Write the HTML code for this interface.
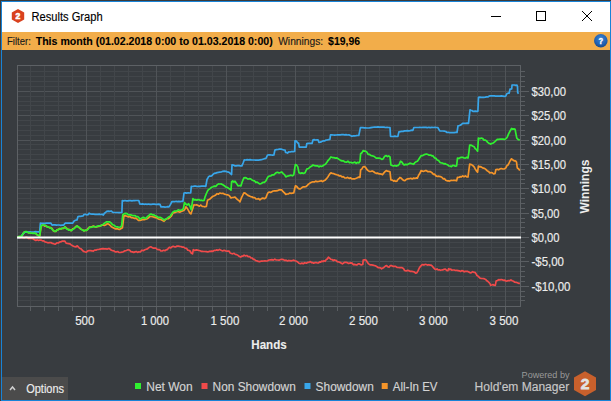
<!DOCTYPE html>
<html><head><meta charset="utf-8"><style>
html,body{margin:0;padding:0;width:611px;height:401px;overflow:hidden;background:#3b3b3b}
svg{display:block}
</style></head><body>
<svg width="611" height="401" viewBox="0 0 611 401" font-family="Liberation Sans, sans-serif">
<rect x="0" y="0" width="611" height="401" fill="#3b3b3b"/>
<rect x="1" y="1" width="610" height="400" fill="#1883d7"/>
<rect x="2" y="2" width="608" height="30" fill="#ffffff"/>
<rect x="2" y="32" width="608" height="18" fill="#f2ad4a"/>
<rect x="2" y="50" width="608" height="350" fill="#383c40"/>
<rect x="18" y="71" width="502" height="1" fill="#42464a"/><rect x="521" y="71" width="4" height="1" fill="#5a5e62"/><rect x="18" y="76" width="502" height="1" fill="#42464a"/><rect x="521" y="76" width="4" height="1" fill="#5a5e62"/><rect x="18" y="81" width="502" height="1" fill="#42464a"/><rect x="521" y="81" width="4" height="1" fill="#5a5e62"/><rect x="18" y="86" width="502" height="1" fill="#42464a"/><rect x="521" y="86" width="4" height="1" fill="#5a5e62"/><rect x="18" y="91" width="502" height="1" fill="#505458"/><rect x="521" y="91" width="8" height="1" fill="#5a5e62"/><rect x="18" y="96" width="502" height="1" fill="#42464a"/><rect x="521" y="96" width="4" height="1" fill="#5a5e62"/><rect x="18" y="101" width="502" height="1" fill="#42464a"/><rect x="521" y="101" width="4" height="1" fill="#5a5e62"/><rect x="18" y="105" width="502" height="1" fill="#42464a"/><rect x="521" y="105" width="4" height="1" fill="#5a5e62"/><rect x="18" y="110" width="502" height="1" fill="#42464a"/><rect x="521" y="110" width="4" height="1" fill="#5a5e62"/><rect x="18" y="115" width="502" height="1" fill="#505458"/><rect x="521" y="115" width="8" height="1" fill="#5a5e62"/><rect x="18" y="120" width="502" height="1" fill="#42464a"/><rect x="521" y="120" width="4" height="1" fill="#5a5e62"/><rect x="18" y="125" width="502" height="1" fill="#42464a"/><rect x="521" y="125" width="4" height="1" fill="#5a5e62"/><rect x="18" y="130" width="502" height="1" fill="#42464a"/><rect x="521" y="130" width="4" height="1" fill="#5a5e62"/><rect x="18" y="135" width="502" height="1" fill="#42464a"/><rect x="521" y="135" width="4" height="1" fill="#5a5e62"/><rect x="18" y="140" width="502" height="1" fill="#505458"/><rect x="521" y="140" width="8" height="1" fill="#5a5e62"/><rect x="18" y="144" width="502" height="1" fill="#42464a"/><rect x="521" y="144" width="4" height="1" fill="#5a5e62"/><rect x="18" y="149" width="502" height="1" fill="#42464a"/><rect x="521" y="149" width="4" height="1" fill="#5a5e62"/><rect x="18" y="154" width="502" height="1" fill="#42464a"/><rect x="521" y="154" width="4" height="1" fill="#5a5e62"/><rect x="18" y="159" width="502" height="1" fill="#42464a"/><rect x="521" y="159" width="4" height="1" fill="#5a5e62"/><rect x="18" y="164" width="502" height="1" fill="#505458"/><rect x="521" y="164" width="8" height="1" fill="#5a5e62"/><rect x="18" y="169" width="502" height="1" fill="#42464a"/><rect x="521" y="169" width="4" height="1" fill="#5a5e62"/><rect x="18" y="174" width="502" height="1" fill="#42464a"/><rect x="521" y="174" width="4" height="1" fill="#5a5e62"/><rect x="18" y="179" width="502" height="1" fill="#42464a"/><rect x="521" y="179" width="4" height="1" fill="#5a5e62"/><rect x="18" y="183" width="502" height="1" fill="#42464a"/><rect x="521" y="183" width="4" height="1" fill="#5a5e62"/><rect x="18" y="188" width="502" height="1" fill="#505458"/><rect x="521" y="188" width="8" height="1" fill="#5a5e62"/><rect x="18" y="193" width="502" height="1" fill="#42464a"/><rect x="521" y="193" width="4" height="1" fill="#5a5e62"/><rect x="18" y="198" width="502" height="1" fill="#42464a"/><rect x="521" y="198" width="4" height="1" fill="#5a5e62"/><rect x="18" y="203" width="502" height="1" fill="#42464a"/><rect x="521" y="203" width="4" height="1" fill="#5a5e62"/><rect x="18" y="208" width="502" height="1" fill="#42464a"/><rect x="521" y="208" width="4" height="1" fill="#5a5e62"/><rect x="18" y="213" width="502" height="1" fill="#505458"/><rect x="521" y="213" width="8" height="1" fill="#5a5e62"/><rect x="18" y="218" width="502" height="1" fill="#42464a"/><rect x="521" y="218" width="4" height="1" fill="#5a5e62"/><rect x="18" y="222" width="502" height="1" fill="#42464a"/><rect x="521" y="222" width="4" height="1" fill="#5a5e62"/><rect x="18" y="227" width="502" height="1" fill="#42464a"/><rect x="521" y="227" width="4" height="1" fill="#5a5e62"/><rect x="18" y="232" width="502" height="1" fill="#42464a"/><rect x="521" y="232" width="4" height="1" fill="#5a5e62"/><rect x="18" y="237" width="502" height="1" fill="#505458"/><rect x="521" y="237" width="8" height="1" fill="#5a5e62"/><rect x="18" y="242" width="502" height="1" fill="#42464a"/><rect x="521" y="242" width="4" height="1" fill="#5a5e62"/><rect x="18" y="247" width="502" height="1" fill="#42464a"/><rect x="521" y="247" width="4" height="1" fill="#5a5e62"/><rect x="18" y="252" width="502" height="1" fill="#42464a"/><rect x="521" y="252" width="4" height="1" fill="#5a5e62"/><rect x="18" y="257" width="502" height="1" fill="#42464a"/><rect x="521" y="257" width="4" height="1" fill="#5a5e62"/><rect x="18" y="261" width="502" height="1" fill="#505458"/><rect x="521" y="261" width="8" height="1" fill="#5a5e62"/><rect x="18" y="266" width="502" height="1" fill="#42464a"/><rect x="521" y="266" width="4" height="1" fill="#5a5e62"/><rect x="18" y="271" width="502" height="1" fill="#42464a"/><rect x="521" y="271" width="4" height="1" fill="#5a5e62"/><rect x="18" y="276" width="502" height="1" fill="#42464a"/><rect x="521" y="276" width="4" height="1" fill="#5a5e62"/><rect x="18" y="281" width="502" height="1" fill="#42464a"/><rect x="521" y="281" width="4" height="1" fill="#5a5e62"/><rect x="18" y="286" width="502" height="1" fill="#505458"/><rect x="521" y="286" width="8" height="1" fill="#5a5e62"/><rect x="18" y="291" width="502" height="1" fill="#42464a"/><rect x="521" y="291" width="4" height="1" fill="#5a5e62"/><rect x="18" y="296" width="502" height="1" fill="#42464a"/><rect x="521" y="296" width="4" height="1" fill="#5a5e62"/><rect x="18" y="300" width="502" height="1" fill="#42464a"/><rect x="521" y="300" width="4" height="1" fill="#5a5e62"/><rect x="30" y="66" width="1" height="240" fill="#42464a"/><rect x="30" y="307" width="1" height="4" fill="#5a5e62"/><rect x="44" y="66" width="1" height="240" fill="#42464a"/><rect x="44" y="307" width="1" height="4" fill="#5a5e62"/><rect x="58" y="66" width="1" height="240" fill="#42464a"/><rect x="58" y="307" width="1" height="4" fill="#5a5e62"/><rect x="72" y="66" width="1" height="240" fill="#42464a"/><rect x="72" y="307" width="1" height="4" fill="#5a5e62"/><rect x="86" y="66" width="1" height="240" fill="#505458"/><rect x="86" y="307" width="1" height="8" fill="#5a5e62"/><rect x="100" y="66" width="1" height="240" fill="#42464a"/><rect x="100" y="307" width="1" height="4" fill="#5a5e62"/><rect x="114" y="66" width="1" height="240" fill="#42464a"/><rect x="114" y="307" width="1" height="4" fill="#5a5e62"/><rect x="128" y="66" width="1" height="240" fill="#42464a"/><rect x="128" y="307" width="1" height="4" fill="#5a5e62"/><rect x="142" y="66" width="1" height="240" fill="#42464a"/><rect x="142" y="307" width="1" height="4" fill="#5a5e62"/><rect x="156" y="66" width="1" height="240" fill="#505458"/><rect x="156" y="307" width="1" height="8" fill="#5a5e62"/><rect x="170" y="66" width="1" height="240" fill="#42464a"/><rect x="170" y="307" width="1" height="4" fill="#5a5e62"/><rect x="184" y="66" width="1" height="240" fill="#42464a"/><rect x="184" y="307" width="1" height="4" fill="#5a5e62"/><rect x="198" y="66" width="1" height="240" fill="#42464a"/><rect x="198" y="307" width="1" height="4" fill="#5a5e62"/><rect x="212" y="66" width="1" height="240" fill="#42464a"/><rect x="212" y="307" width="1" height="4" fill="#5a5e62"/><rect x="226" y="66" width="1" height="240" fill="#505458"/><rect x="226" y="307" width="1" height="8" fill="#5a5e62"/><rect x="240" y="66" width="1" height="240" fill="#42464a"/><rect x="240" y="307" width="1" height="4" fill="#5a5e62"/><rect x="253" y="66" width="1" height="240" fill="#42464a"/><rect x="253" y="307" width="1" height="4" fill="#5a5e62"/><rect x="267" y="66" width="1" height="240" fill="#42464a"/><rect x="267" y="307" width="1" height="4" fill="#5a5e62"/><rect x="281" y="66" width="1" height="240" fill="#42464a"/><rect x="281" y="307" width="1" height="4" fill="#5a5e62"/><rect x="295" y="66" width="1" height="240" fill="#505458"/><rect x="295" y="307" width="1" height="8" fill="#5a5e62"/><rect x="309" y="66" width="1" height="240" fill="#42464a"/><rect x="309" y="307" width="1" height="4" fill="#5a5e62"/><rect x="323" y="66" width="1" height="240" fill="#42464a"/><rect x="323" y="307" width="1" height="4" fill="#5a5e62"/><rect x="337" y="66" width="1" height="240" fill="#42464a"/><rect x="337" y="307" width="1" height="4" fill="#5a5e62"/><rect x="351" y="66" width="1" height="240" fill="#42464a"/><rect x="351" y="307" width="1" height="4" fill="#5a5e62"/><rect x="365" y="66" width="1" height="240" fill="#505458"/><rect x="365" y="307" width="1" height="8" fill="#5a5e62"/><rect x="379" y="66" width="1" height="240" fill="#42464a"/><rect x="379" y="307" width="1" height="4" fill="#5a5e62"/><rect x="393" y="66" width="1" height="240" fill="#42464a"/><rect x="393" y="307" width="1" height="4" fill="#5a5e62"/><rect x="407" y="66" width="1" height="240" fill="#42464a"/><rect x="407" y="307" width="1" height="4" fill="#5a5e62"/><rect x="421" y="66" width="1" height="240" fill="#42464a"/><rect x="421" y="307" width="1" height="4" fill="#5a5e62"/><rect x="435" y="66" width="1" height="240" fill="#505458"/><rect x="435" y="307" width="1" height="8" fill="#5a5e62"/><rect x="449" y="66" width="1" height="240" fill="#42464a"/><rect x="449" y="307" width="1" height="4" fill="#5a5e62"/><rect x="463" y="66" width="1" height="240" fill="#42464a"/><rect x="463" y="307" width="1" height="4" fill="#5a5e62"/><rect x="477" y="66" width="1" height="240" fill="#42464a"/><rect x="477" y="307" width="1" height="4" fill="#5a5e62"/><rect x="491" y="66" width="1" height="240" fill="#42464a"/><rect x="491" y="307" width="1" height="4" fill="#5a5e62"/><rect x="505" y="66" width="1" height="240" fill="#505458"/><rect x="505" y="307" width="1" height="8" fill="#5a5e62"/>
<rect x="17" y="65" width="504" height="1" fill="#5d6165"/>
<rect x="17" y="306" width="504" height="1" fill="#5d6165"/>
<rect x="17" y="65" width="1" height="242" fill="#5d6165"/>
<rect x="520" y="65" width="1" height="242" fill="#5d6165"/>
<clipPath id="pc"><rect x="17" y="65" width="504" height="242"/></clipPath>
<g clip-path="url(#pc)" fill="none" stroke-width="1.7" stroke-linejoin="round">
<polyline stroke="#f5952a" points="17.0,237.5 18.3,236.7 19.7,237.5 21.0,236.7 22.2,235.5 23.5,233.2 24.7,231.9 26.0,232.1 27.4,232.2 28.7,232.6 30.0,232.6 31.5,233.2 33.0,232.4 34.5,233.2 35.6,233.1 36.7,234.4 38.2,235.6 39.7,235.9 41.2,225.7 42.3,225.3 43.4,225.1 44.7,226.1 45.9,225.6 47.2,226.9 48.4,227.1 49.7,227.7 50.9,227.7 52.2,228.6 53.4,230.8 54.7,231.4 55.9,231.4 57.2,229.5 58.4,229.6 59.6,228.5 60.9,228.9 62.1,228.4 63.6,228.3 65.1,226.9 66.2,227.9 67.4,229.2 68.6,229.3 69.9,230.1 71.1,230.7 72.5,228.9 74.0,228.5 75.5,226.8 77.0,225.9 78.3,226.9 79.7,228.2 81.0,229.3 82.5,229.7 84.0,230.9 85.2,230.3 86.5,230.4 88.0,228.4 89.5,227.1 90.8,226.9 92.1,226.6 93.4,226.1 94.7,226.7 96.0,227.1 97.2,226.6 98.5,226.4 100.0,226.2 101.5,225.2 103.0,225.2 104.5,225.4 105.9,224.7 107.4,223.7 108.7,224.1 110.1,225.3 111.4,226.8 112.7,227.4 114.2,228.2 115.7,229.0 117.2,228.7 118.7,229.3 119.9,229.3 121.2,228.5 122.4,227.8 123.9,215.8 125.4,215.7 126.9,216.3 128.4,216.9 129.9,216.5 131.3,217.6 132.7,217.7 134.1,218.3 135.6,218.1 137.0,219.0 138.4,220.3 139.8,220.5 141.3,220.1 142.8,219.4 144.3,219.7 145.8,219.3 147.2,218.7 148.6,217.7 150.0,216.5 151.0,216.5 152.5,216.7 154.0,217.1 155.5,217.6 157.0,217.9 158.4,219.0 159.8,219.3 161.2,219.8 162.6,220.6 164.0,221.3 165.5,219.6 167.0,218.7 168.5,218.6 170.0,217.3 171.5,215.8 173.0,212.9 174.4,212.7 175.7,212.2 177.1,211.5 178.4,211.7 179.8,212.1 181.2,211.5 182.5,210.9 183.9,210.5 184.9,209.2 185.9,206.9 187.2,208.3 188.4,210.4 189.7,212.8 190.9,213.9 192.4,209.5 193.9,204.9 195.3,205.0 196.7,204.9 198.1,205.5 199.5,206.2 200.8,205.0 202.2,206.3 203.6,206.5 205.0,206.8 206.4,206.4 207.5,200.3 208.9,199.6 210.3,198.7 211.7,197.3 213.1,196.3 214.4,195.7 215.8,194.9 217.1,193.7 218.5,194.2 219.8,193.0 221.3,193.5 222.8,193.3 224.3,194.1 225.8,194.5 227.3,194.8 228.8,195.2 229.9,196.4 231.0,198.0 232.3,197.5 233.7,197.4 235.0,197.0 236.2,198.4 237.5,199.6 238.8,200.5 240.0,201.8 241.3,198.2 242.6,195.5 243.9,192.9 245.2,193.1 246.6,194.3 247.9,195.4 249.2,195.9 250.6,196.6 251.9,196.8 253.2,197.7 254.6,197.5 255.9,198.8 257.2,199.0 258.6,198.7 259.9,199.8 261.4,198.6 262.9,198.1 264.4,198.7 265.9,197.8 266.9,195.0 267.9,192.9 269.2,192.0 270.6,192.4 271.9,191.7 273.2,191.0 274.6,190.8 275.9,190.9 277.4,190.7 278.9,189.9 280.3,189.8 281.8,189.9 283.1,191.7 284.5,192.9 285.8,194.5 287.1,194.0 288.5,193.9 289.8,193.0 291.1,193.3 292.5,193.1 293.8,192.9 294.6,189.0 295.4,185.9 296.6,186.4 297.8,187.9 299.0,188.8 300.3,188.9 301.7,187.8 303.0,186.9 304.3,186.9 305.7,186.7 307.0,185.8 308.5,184.1 310.0,183.1 311.5,182.3 313.0,181.8 314.4,182.0 315.7,181.1 317.1,181.7 318.4,181.5 319.8,181.2 321.2,180.7 322.5,181.6 323.9,180.8 325.4,179.9 326.9,178.2 328.2,176.4 329.6,174.2 330.9,172.8 332.4,173.5 333.9,173.7 335.4,174.4 336.9,174.8 338.1,175.0 339.4,176.0 340.6,175.7 341.9,176.8 343.3,176.7 344.8,177.9 346.2,178.0 347.7,177.4 349.1,178.4 350.6,177.9 352.0,179.0 353.5,178.9 354.9,178.8 356.2,178.3 357.4,177.8 358.7,177.1 360.0,177.4 360.6,170.0 361.9,168.9 363.1,166.8 364.4,166.5 365.6,167.5 366.9,169.5 368.1,170.6 369.5,171.5 370.9,171.3 372.3,171.0 373.7,171.8 375.0,172.7 376.2,173.3 377.5,173.1 378.8,173.8 380.0,173.9 381.2,174.1 382.5,174.7 383.7,173.1 385.0,171.6 386.2,170.6 387.5,171.2 388.7,171.3 390.0,171.8 390.9,179.9 392.3,180.1 393.7,181.2 394.7,180.6 395.8,181.4 396.8,181.2 397.8,179.6 398.9,178.7 399.9,177.4 401.1,178.0 402.4,179.5 403.6,180.4 404.9,180.6 406.4,179.3 407.8,178.9 409.3,178.7 410.8,178.3 412.2,179.0 413.7,178.1 414.9,178.5 416.2,177.9 417.4,178.1 418.6,175.2 419.9,173.3 421.1,170.6 422.5,171.1 423.8,171.3 425.2,170.7 426.5,170.7 427.9,171.7 429.2,171.7 430.5,171.7 431.9,172.6 433.3,174.3 434.6,174.2 436.0,175.9 437.4,176.5 438.9,176.2 440.3,176.6 441.8,177.3 443.1,178.8 444.4,178.6 445.7,180.3 447.0,180.8 448.3,180.9 449.6,181.1 451.0,180.4 452.3,180.5 453.7,180.4 455.2,180.4 456.6,180.8 457.5,177.3 458.8,177.5 460.1,176.7 461.4,176.9 462.7,175.9 464.0,176.7 465.4,175.9 466.7,176.8 468.0,177.0 468.9,170.0 469.7,164.2 471.2,164.5 472.6,165.4 474.1,166.9 475.3,169.1 476.4,170.8 477.6,172.1 478.4,166.0 479.6,166.9 480.8,166.7 482.1,167.5 483.3,168.2 484.5,168.3 485.8,169.3 487.1,170.7 488.5,171.4 489.8,173.0 491.1,172.5 492.4,172.9 493.7,173.9 495.0,173.5 495.9,169.5 497.3,169.4 498.6,169.8 500.0,168.9 501.4,168.5 502.8,169.0 504.1,168.9 505.5,168.3 506.0,167.5 507.0,165.6 508.0,165.0 509.0,163.2 510.0,161.0 511.5,158.8 513.0,160.0 514.5,161.0 515.5,160.9 516.5,162.0 517.3,168.0 518.5,168.7 519.8,170.5"/>
<polyline stroke="#38a6ea" points="17.0,237.5 18.3,237.6 19.7,237.4 21.0,237.0 22.2,235.1 23.5,233.4 24.7,231.9 26.1,232.1 27.4,232.0 28.8,232.0 30.2,231.8 31.5,232.0 32.9,232.0 34.2,231.9 35.6,231.7 37.0,231.9 38.3,231.8 39.7,231.9 40.4,223.2 41.9,223.3 43.4,223.4 44.9,223.4 46.4,223.2 47.9,223.2 49.4,223.1 50.9,223.2 52.1,225.1 53.5,224.9 55.0,224.9 56.4,225.1 57.9,225.0 59.3,225.0 60.7,225.3 62.2,225.1 63.6,225.1 65.1,223.2 66.6,223.2 68.1,223.1 69.6,223.0 71.1,223.1 72.6,223.2 74.1,221.0 75.5,220.3 77.0,219.9 78.0,216.5 79.2,216.4 80.5,216.4 81.8,216.1 83.0,215.9 84.0,214.5 85.3,214.4 86.7,214.8 88.0,214.7 89.1,213.2 90.6,214.0 92.0,214.2 93.5,214.2 95.0,214.3 96.4,214.3 97.8,214.3 99.3,214.2 100.8,214.5 102.2,214.3 103.3,215.1 104.4,213.2 105.6,212.5 106.7,211.4 108.2,211.1 109.7,211.3 111.2,211.0 112.3,211.9 113.4,212.5 114.8,212.5 116.2,212.5 117.7,212.5 119.1,212.7 120.5,212.5 121.9,212.5 122.3,200.6 123.7,200.8 125.0,200.5 126.4,200.8 127.8,200.8 129.2,200.6 130.6,200.6 131.9,200.8 133.3,200.7 134.7,200.6 136.1,200.5 137.4,200.5 138.8,200.6 139.8,204.0 141.2,204.1 142.7,203.9 144.1,204.3 145.6,204.0 147.0,204.3 148.5,204.0 149.9,204.4 151.3,204.3 152.8,204.2 154.2,204.2 155.7,204.3 157.1,204.3 158.6,204.2 160.0,204.3 161.0,206.9 162.3,206.8 163.7,206.9 165.0,207.1 166.3,207.0 167.7,206.7 169.0,206.9 170.5,204.4 172.0,201.5 173.4,201.6 174.7,201.7 176.1,201.3 177.4,201.6 178.8,201.3 180.2,201.6 181.5,201.4 182.9,201.5 184.0,193.0 185.3,192.9 186.7,193.2 188.0,192.8 189.4,193.0 190.7,193.0 191.3,186.3 192.8,186.5 194.2,186.2 195.7,186.2 197.1,186.5 198.6,186.3 200.0,186.4 201.5,186.1 202.9,186.2 204.4,186.1 205.8,186.3 207.0,179.5 207.8,178.2 208.6,176.7 209.7,176.1 210.9,176.2 212.0,175.6 213.1,174.3 214.2,173.4 215.6,173.2 217.0,172.6 218.4,172.4 219.8,172.2 221.3,172.0 222.8,171.3 224.3,171.1 225.8,171.3 227.3,171.9 228.8,172.2 230.2,173.3 231.6,174.5 232.0,164.9 233.3,165.0 234.7,165.8 236.0,165.9 237.5,165.7 238.9,165.7 240.4,165.8 241.9,165.9 243.1,163.0 244.3,159.9 245.7,160.0 247.1,159.7 248.6,159.8 250.0,159.7 251.4,159.9 252.8,160.0 254.2,160.0 255.6,160.1 257.1,160.0 258.5,160.1 259.9,159.9 261.4,159.7 262.9,159.2 264.4,158.7 265.9,158.5 266.7,156.8 267.5,155.0 268.8,154.9 270.1,154.8 271.3,155.0 272.6,155.2 273.9,155.0 274.9,150.0 276.4,149.6 277.9,149.5 279.3,149.2 280.8,149.0 282.3,149.5 283.8,150.0 285.0,150.0 285.6,152.5 286.6,152.6 287.5,153.1 288.7,151.8 290.2,152.0 291.7,151.5 293.2,151.6 294.7,151.5 295.0,140.9 296.5,141.2 297.5,142.8 298.5,143.0 299.3,147.2 300.7,147.2 302.1,147.0 303.4,147.2 304.8,147.0 306.2,147.2 306.8,143.7 308.1,143.4 309.4,143.4 310.7,143.4 312.0,143.5 313.0,139.9 314.2,139.7 315.5,140.0 316.8,139.9 318.0,139.9 319.0,142.3 320.3,142.1 321.7,141.6 323.0,140.9 324.4,140.9 325.8,140.2 327.1,140.0 328.5,139.7 329.9,139.5 330.5,134.9 331.9,134.9 333.3,135.0 334.7,135.1 336.2,135.0 337.6,134.8 339.0,134.9 340.4,134.9 341.8,134.7 343.2,134.7 344.7,134.9 346.1,134.7 347.5,135.0 348.9,134.9 350.4,135.5 351.9,136.3 353.3,135.9 354.7,135.8 356.0,135.7 357.4,135.5 358.8,135.5 359.6,131.6 360.4,127.6 361.7,127.7 363.0,127.7 364.2,127.9 365.5,127.8 366.8,128.0 368.2,128.0 369.5,127.9 370.9,127.6 372.3,127.3 373.6,127.2 375.0,127.0 376.5,127.1 378.0,126.9 379.5,127.1 381.0,127.2 382.5,127.1 384.0,127.1 385.5,127.5 387.0,127.3 388.5,127.5 390.0,127.5 390.5,136.3 392.0,136.5 393.5,136.4 394.9,136.2 396.4,136.5 397.9,136.3 398.9,131.9 400.3,131.6 401.7,131.3 403.1,131.4 404.5,130.9 405.9,130.9 407.3,130.7 408.7,130.8 410.1,130.6 411.5,130.2 412.9,130.3 413.9,127.5 415.4,127.5 416.9,127.5 418.4,127.5 419.9,127.4 421.4,127.5 422.9,127.3 424.4,127.4 425.9,127.4 427.3,127.7 428.8,127.3 430.3,127.6 431.8,127.3 433.3,127.5 434.8,127.4 436.3,127.5 437.8,127.5 438.8,129.3 439.8,130.9 441.3,131.0 442.8,131.0 444.3,131.2 445.8,131.5 447.0,132.5 448.4,132.3 449.9,132.7 451.3,132.6 452.7,132.7 454.1,132.6 455.6,132.3 457.0,132.5 458.0,125.9 459.5,125.5 461.0,124.9 461.8,124.2 462.6,123.3 464.1,123.4 465.6,123.3 467.0,123.2 468.5,123.3 470.0,109.9 470.9,110.2 471.9,110.5 472.9,111.3 474.1,111.4 475.4,111.2 476.6,111.3 477.9,111.3 478.5,97.3 479.8,97.2 481.2,97.4 482.5,97.3 483.9,97.3 485.2,97.2 486.6,96.9 487.9,96.9 488.9,96.3 489.9,95.9 491.3,95.9 492.8,95.8 494.2,95.9 495.6,96.1 497.1,96.2 498.5,96.1 500.0,96.2 501.4,95.9 502.8,96.1 504.3,96.4 505.7,96.2 507.0,93.5 508.1,93.2 509.2,93.2 510.0,89.2 510.9,89.1 511.7,89.0 512.0,85.2 513.2,85.0 514.5,85.0 515.8,85.4 517.0,85.2 517.5,86.5 517.7,92.5 518.5,93.7"/>
<polyline stroke="#f04a4a" points="17.0,237.5 18.2,237.1 19.4,237.5 20.5,237.2 21.7,237.4 23.1,237.7 24.5,237.8 25.9,237.2 27.2,237.3 28.6,238.5 30.0,238.2 31.5,238.4 33.0,238.8 34.5,239.7 35.8,240.5 37.2,239.8 38.5,240.4 39.9,240.0 41.2,240.1 42.4,240.9 43.7,240.8 44.9,241.9 46.4,242.3 47.9,242.8 49.4,242.5 50.9,242.6 52.4,243.4 53.9,243.8 55.4,244.1 56.9,242.8 58.4,243.0 59.9,241.9 61.1,241.8 62.4,241.1 63.6,241.1 64.9,241.2 66.1,243.1 67.4,243.4 68.7,243.6 70.0,243.9 71.2,244.9 72.5,245.8 73.7,246.3 74.9,246.7 76.0,246.8 77.0,245.8 78.2,246.7 79.5,248.2 80.8,248.7 82.0,249.8 83.5,251.4 85.0,251.8 86.4,252.1 87.8,250.8 89.2,250.7 90.6,250.6 92.0,250.8 93.3,251.2 94.6,250.2 96.0,250.2 97.3,249.5 98.6,249.5 99.9,249.2 101.4,248.9 102.9,248.7 104.4,248.9 105.9,248.8 107.4,249.1 108.9,248.4 110.2,249.3 111.4,250.2 112.7,250.7 113.9,250.8 115.2,251.9 116.4,251.8 117.7,251.5 118.9,252.4 120.4,252.5 121.9,252.2 123.4,251.7 124.9,250.8 126.4,250.5 127.9,249.8 129.4,250.0 130.9,251.6 132.3,251.9 133.8,252.4 135.1,251.9 136.3,251.5 137.6,252.4 138.8,251.8 140.3,252.0 141.8,250.2 143.3,250.7 144.8,249.8 146.2,249.2 147.5,248.9 148.6,247.7 149.6,247.2 150.7,246.8 152.1,247.6 153.4,248.2 154.8,248.1 155.9,248.0 157.0,249.3 158.1,249.7 159.5,249.5 160.8,250.9 162.2,251.0 163.6,250.3 164.9,250.7 166.3,249.7 167.4,249.6 168.4,248.1 169.5,247.3 170.8,247.9 172.0,246.8 173.2,246.3 174.5,246.8 175.8,246.9 177.1,246.0 178.4,246.2 179.7,246.4 181.0,246.5 182.4,247.2 183.7,247.1 185.1,248.1 186.5,248.3 187.8,250.2 189.2,250.5 190.3,251.3 191.4,253.3 192.5,253.8 193.3,249.7 194.7,250.5 196.2,249.9 197.6,250.2 199.0,250.5 200.1,250.8 201.2,251.3 202.3,251.4 203.7,251.5 205.0,251.5 206.4,251.6 207.8,252.0 209.1,251.4 210.5,251.4 211.7,251.1 212.9,251.3 214.2,250.4 215.4,250.5 216.8,249.9 218.1,250.4 219.5,249.4 220.6,250.0 221.6,250.5 222.7,251.0 224.1,250.3 225.6,250.9 227.1,251.1 228.5,251.0 229.3,251.3 230.1,253.0 231.4,253.5 232.7,253.8 234.1,253.3 235.4,254.5 236.7,254.6 238.0,255.4 239.4,256.5 240.7,257.1 241.8,256.2 243.0,256.1 244.1,255.1 245.5,256.0 246.8,255.5 248.2,256.7 249.6,256.5 250.9,257.8 252.3,258.0 253.4,259.5 254.4,259.3 255.5,260.5 256.9,260.8 258.2,261.4 259.6,261.6 260.9,261.2 262.2,261.2 263.6,261.0 264.9,260.9 266.2,261.0 267.6,260.8 269.0,260.0 270.5,259.8 271.9,259.6 273.3,260.1 274.8,259.1 276.2,260.0 277.6,260.0 279.1,260.2 280.5,259.5 281.9,259.3 283.4,259.6 284.8,260.5 286.1,260.2 287.5,261.0 288.7,260.4 289.9,260.7 291.2,260.9 292.4,260.5 293.8,260.2 295.1,260.8 296.5,261.3 297.7,262.0 298.9,263.2 300.4,263.7 301.9,263.1 303.3,263.7 304.8,262.7 306.3,263.2 307.7,262.4 309.0,262.3 310.4,261.6 311.5,262.7 312.5,262.6 313.6,263.2 314.9,262.7 316.1,262.5 317.4,263.0 318.6,262.9 319.7,261.8 320.7,262.1 321.8,261.0 322.9,261.6 324.0,260.8 325.1,261.3 326.2,259.6 327.3,259.0 328.4,257.2 329.6,258.2 330.9,259.3 332.1,259.5 333.3,260.5 334.1,259.8 335.0,260.1 336.1,260.4 337.2,261.6 338.3,261.8 339.7,262.2 341.0,263.0 342.4,263.9 343.6,263.0 344.8,262.3 346.0,262.4 347.2,262.6 348.5,263.5 349.7,263.1 350.9,262.9 352.1,263.1 353.4,264.7 354.6,264.4 355.8,264.8 357.1,264.8 358.3,263.9 359.5,263.9 360.6,264.7 361.7,264.8 362.8,264.4 363.2,260.1 364.6,259.7 366.1,260.1 367.4,262.3 368.6,263.9 370.0,264.8 371.5,264.9 372.9,265.1 374.3,265.5 375.7,265.9 377.0,266.7 378.4,267.7 379.5,267.7 380.5,267.8 381.6,268.8 382.9,268.1 384.1,267.2 385.4,266.1 386.6,265.5 387.8,266.8 389.0,267.2 390.2,265.7 391.5,265.5 392.9,266.4 394.2,266.4 395.6,266.4 396.9,267.3 398.2,267.5 399.5,267.7 400.8,267.5 402.1,267.7 403.4,268.4 404.6,270.5 406.1,271.0 407.5,270.4 409.0,270.7 410.4,271.4 411.9,271.3 413.1,271.7 414.4,272.0 415.6,273.1 416.8,272.9 418.1,270.6 419.3,268.0 420.5,266.3 421.7,265.1 422.8,264.5 423.9,265.1 425.0,264.4 426.2,264.5 427.5,265.1 428.8,264.7 430.0,265.1 431.1,265.2 432.3,266.2 433.5,267.6 434.7,269.0 435.9,269.6 437.0,268.9 438.1,270.0 439.3,269.8 440.5,270.3 441.6,270.0 442.8,269.9 444.0,269.3 445.3,269.0 446.6,270.3 447.9,270.6 448.7,268.7 449.7,269.7 450.8,269.1 451.8,270.2 453.0,270.0 454.3,270.0 455.5,270.5 456.8,270.4 458.0,270.6 459.2,270.8 460.5,271.5 461.7,270.6 463.0,270.9 464.2,271.8 465.4,271.4 466.5,271.4 467.7,271.4 468.9,272.1 470.1,272.8 471.4,272.7 472.6,271.7 473.9,272.3 475.1,272.4 475.9,273.5 476.7,275.2 477.7,275.9 478.8,276.9 479.8,278.0 481.1,278.4 482.4,278.5 483.7,278.6 484.7,279.1 485.8,279.6 486.8,280.7 488.0,281.5 489.1,282.7 489.9,283.5 490.7,285.3 491.9,285.0 493.0,284.5 494.1,285.2 495.3,285.3 496.1,281.1 497.4,280.5 498.7,279.7 500.0,279.9 501.2,279.5 502.4,279.9 503.5,280.3 504.7,280.2 505.9,281.0 507.0,281.1 508.3,280.5 509.6,280.7 510.9,279.9 512.2,280.8 513.5,281.3 514.8,282.2 516.1,282.3 517.3,282.7 518.6,283.3 519.9,283.3"/>
<polyline stroke="#30f030" points="17.0,237.5 18.3,236.9 19.7,236.4 21.0,236.7 22.2,235.0 23.5,233.0 24.7,231.9 26.0,231.5 27.4,232.1 28.7,233.0 30.0,232.6 31.5,233.2 33.0,233.4 34.5,233.2 35.6,233.4 36.7,234.4 38.2,235.2 39.7,235.9 41.2,225.7 42.3,225.1 43.4,225.1 44.7,225.2 45.9,225.7 47.2,226.9 48.4,226.8 49.7,228.0 50.9,227.7 52.2,229.4 53.4,230.6 54.7,231.4 55.9,231.2 57.2,229.8 58.4,229.6 59.6,228.9 60.9,229.0 62.1,228.4 63.6,228.0 65.1,226.9 66.2,228.5 67.4,229.2 68.6,230.2 69.9,229.6 71.1,230.7 72.5,229.7 74.0,228.5 75.5,227.4 77.0,225.9 78.3,227.0 79.7,227.7 81.0,229.3 82.5,230.1 84.0,230.9 85.2,230.1 86.5,230.4 88.0,229.4 89.5,227.1 90.8,227.5 92.1,227.0 93.4,226.5 94.7,226.7 96.0,227.0 97.2,226.3 98.5,225.9 100.0,225.9 101.5,225.4 103.0,224.4 104.2,223.5 105.5,222.5 106.7,221.8 108.2,221.9 109.7,221.8 111.2,223.2 112.7,224.8 114.2,225.3 115.7,226.7 117.2,226.8 118.7,227.4 120.2,227.1 121.6,225.9 122.8,214.7 124.3,213.6 125.7,213.3 127.1,213.6 128.5,214.8 129.9,214.9 131.2,214.9 132.5,215.5 133.9,215.7 135.2,215.7 136.5,216.9 137.8,216.5 138.8,217.5 139.8,219.3 141.1,218.5 142.5,217.6 143.8,217.3 144.8,218.1 145.8,218.5 147.2,216.9 148.6,215.6 150.0,214.5 151.0,213.9 152.5,214.9 154.0,214.9 155.5,215.9 157.0,216.5 158.4,217.7 159.8,217.3 161.2,217.9 162.6,218.8 164.0,219.9 165.5,219.4 167.0,218.4 168.5,217.0 170.0,216.5 171.5,214.0 173.0,211.9 174.3,211.1 175.6,211.2 176.9,210.9 178.2,209.8 179.5,210.3 180.8,210.1 182.1,209.8 183.4,208.7 184.5,202.5 185.7,204.0 186.8,204.8 187.7,204.8 188.5,203.6 189.9,206.0 191.3,209.8 192.1,203.9 192.9,198.6 194.3,199.8 195.7,199.7 196.8,200.1 198.0,199.6 199.1,199.7 200.3,200.5 201.6,200.2 202.8,200.6 204.1,200.3 205.2,196.6 206.4,193.5 207.5,191.1 208.6,189.6 210.1,188.6 211.6,187.2 213.1,186.8 214.4,186.1 215.8,186.3 217.1,184.9 218.5,183.9 219.8,184.0 221.3,183.9 222.8,184.7 224.3,185.7 225.8,187.0 227.3,187.4 228.8,188.5 229.9,189.1 231.0,190.2 231.6,181.8 232.7,181.0 233.9,182.1 235.0,181.2 236.5,183.4 238.0,185.9 239.4,185.5 240.9,185.9 242.4,181.3 243.9,177.9 245.2,177.6 246.6,178.1 247.9,179.1 249.2,178.7 250.6,178.9 251.9,179.9 253.2,180.6 254.6,180.9 255.9,182.6 257.2,182.0 258.6,183.3 259.9,183.9 261.4,183.5 262.9,182.3 264.4,182.3 265.9,180.9 266.9,178.9 267.9,176.9 269.4,176.0 270.9,175.8 272.4,174.8 273.9,174.9 274.9,173.8 275.9,172.9 277.4,172.3 278.9,172.9 280.3,172.6 281.8,171.9 283.1,173.6 284.5,174.6 285.8,176.9 287.1,176.2 288.5,175.9 289.8,175.5 291.1,175.2 292.5,175.8 293.8,174.9 294.6,169.2 295.4,164.5 296.6,165.1 297.8,166.9 299.0,172.8 300.5,173.4 302.0,172.9 303.5,173.5 305.0,172.8 306.0,170.7 307.0,168.9 308.5,168.5 310.0,167.1 311.5,166.3 313.0,164.9 314.5,165.7 316.0,165.9 317.5,165.8 319.0,166.9 320.2,166.0 321.4,166.4 322.7,166.0 323.9,164.9 325.4,164.2 326.9,162.3 328.2,160.3 329.6,158.9 330.9,156.9 332.4,157.6 333.9,157.6 335.4,158.1 336.9,157.9 338.1,158.7 339.4,159.6 340.6,160.4 341.9,160.9 343.4,160.8 344.9,162.0 346.4,162.2 347.9,161.2 349.4,162.7 350.9,162.3 352.2,163.0 353.5,162.7 354.9,162.0 356.2,163.3 357.5,162.3 358.8,162.9 360.0,161.2 360.6,153.7 361.9,152.8 363.1,150.6 364.4,151.1 365.6,151.2 366.9,152.2 368.1,154.4 369.5,154.4 370.9,155.5 372.3,155.8 373.7,156.2 375.0,157.2 376.2,158.1 377.5,158.1 378.9,158.1 380.4,158.3 381.8,159.4 383.3,158.7 384.7,156.2 386.2,155.6 387.5,156.6 388.7,155.9 390.0,156.9 390.9,165.0 392.2,165.6 393.6,165.8 394.9,165.6 396.0,166.1 397.0,165.7 398.1,165.6 399.4,163.9 400.6,161.2 401.8,162.0 403.1,164.0 404.3,165.0 405.7,164.3 407.1,164.6 408.5,164.0 409.9,163.1 411.2,163.5 412.4,163.9 413.7,164.3 414.9,162.6 416.2,161.6 417.4,161.2 418.6,159.5 419.9,157.5 421.1,155.6 422.5,155.7 423.8,154.9 425.2,154.3 426.5,154.0 427.9,154.5 429.2,155.2 430.5,155.0 431.8,155.8 433.1,155.9 434.4,157.8 435.7,158.1 437.2,160.0 438.6,160.5 440.1,162.5 441.3,162.9 442.5,163.0 443.8,163.9 445.0,163.6 446.2,164.2 447.5,164.7 448.8,166.0 450.1,166.0 451.4,166.7 452.7,165.4 454.0,165.5 455.3,166.2 456.6,166.0 457.5,158.1 458.8,158.4 460.1,157.7 461.4,157.4 462.7,157.3 464.0,158.0 465.4,158.1 466.7,157.3 468.0,158.1 468.9,152.1 469.7,145.1 471.2,145.2 472.6,146.0 474.1,146.8 475.3,148.7 476.4,149.6 477.6,151.2 478.4,138.1 479.9,138.7 481.3,138.0 482.8,138.6 484.0,140.1 485.2,140.0 486.5,140.9 487.7,142.4 488.9,143.3 489.8,143.5 490.6,144.2 491.9,143.4 493.2,143.0 494.6,141.9 495.9,140.7 497.3,139.4 498.8,139.3 500.2,139.0 501.5,139.1 502.9,139.0 504.2,139.3 505.5,139.0 506.4,138.1 507.2,137.2 508.7,133.7 510.1,131.0 511.6,128.5 512.8,129.3 513.9,128.9 515.1,129.4 516.0,134.1 516.8,138.1 518.3,139.6 519.8,139.8"/>
</g>
<rect x="17" y="236.5" width="504" height="2" fill="#ffffff"/>
<text x="31.5" y="21" font-size="12" font-weight="normal" fill="#000" stroke="#000" stroke-width="0.15" textLength="71.1" lengthAdjust="spacingAndGlyphs" >Results Graph</text><text x="7" y="45" font-size="11" font-weight="normal" fill="#1a1a1a" stroke="#1a1a1a" stroke-width="0.15" textLength="23.8" lengthAdjust="spacingAndGlyphs" >Filter:</text><text x="35.7" y="45" font-size="11" font-weight="bold" fill="#000" stroke="#000" stroke-width="0.1" textLength="237.0" lengthAdjust="spacingAndGlyphs" >This month (01.02.2018 0:00 to 01.03.2018 0:00)</text><text x="278.2" y="45" font-size="11" font-weight="normal" fill="#1a1a1a" stroke="#1a1a1a" stroke-width="0.15" textLength="45.0" lengthAdjust="spacingAndGlyphs" >Winnings:</text><text x="328.1" y="45" font-size="11" font-weight="bold" fill="#000" stroke="#000" stroke-width="0.1" textLength="31.9" lengthAdjust="spacingAndGlyphs" >$19,96</text><text x="75.2" y="325" font-size="12" font-weight="normal" fill="#ededed" stroke="#ededed" stroke-width="0.15" textLength="19.3" lengthAdjust="spacingAndGlyphs" >500</text><text x="140.9" y="325" font-size="12" font-weight="normal" fill="#ededed" stroke="#ededed" stroke-width="0.15" textLength="28.1" lengthAdjust="spacingAndGlyphs" >1 000</text><text x="210.5" y="325" font-size="12" font-weight="normal" fill="#ededed" stroke="#ededed" stroke-width="0.15" textLength="28.8" lengthAdjust="spacingAndGlyphs" >1 500</text><text x="279" y="325" font-size="12" font-weight="normal" fill="#ededed" stroke="#ededed" stroke-width="0.15" textLength="28.9" lengthAdjust="spacingAndGlyphs" >2 000</text><text x="349" y="325" font-size="12" font-weight="normal" fill="#ededed" stroke="#ededed" stroke-width="0.15" textLength="28.9" lengthAdjust="spacingAndGlyphs" >2 500</text><text x="418.9" y="325" font-size="12" font-weight="normal" fill="#ededed" stroke="#ededed" stroke-width="0.15" textLength="28.8" lengthAdjust="spacingAndGlyphs" >3 000</text><text x="489.6" y="325" font-size="12" font-weight="normal" fill="#ededed" stroke="#ededed" stroke-width="0.15" textLength="28.8" lengthAdjust="spacingAndGlyphs" >3 500</text><text x="251.3" y="349" font-size="12" font-weight="bold" fill="#ededed" stroke="#ededed" stroke-width="0.1" textLength="35.4" lengthAdjust="spacingAndGlyphs" >Hands</text><text x="0" y="0" font-size="12" font-weight="bold" fill="#ededed" textLength="54" lengthAdjust="spacingAndGlyphs" transform="translate(589.2,213.5) rotate(-90)">Winnings</text><text x="531.5" y="96" font-size="12" font-weight="normal" fill="#ededed" stroke="#ededed" stroke-width="0.15" textLength="34.5" lengthAdjust="spacingAndGlyphs" >$30,00</text><text x="531.5" y="120" font-size="12" font-weight="normal" fill="#ededed" stroke="#ededed" stroke-width="0.15" textLength="34.5" lengthAdjust="spacingAndGlyphs" >$25,00</text><text x="531.5" y="145" font-size="12" font-weight="normal" fill="#ededed" stroke="#ededed" stroke-width="0.15" textLength="34.5" lengthAdjust="spacingAndGlyphs" >$20,00</text><text x="531.5" y="169" font-size="12" font-weight="normal" fill="#ededed" stroke="#ededed" stroke-width="0.15" textLength="34.5" lengthAdjust="spacingAndGlyphs" >$15,00</text><text x="531.5" y="193" font-size="12" font-weight="normal" fill="#ededed" stroke="#ededed" stroke-width="0.15" textLength="34.5" lengthAdjust="spacingAndGlyphs" >$10,00</text><text x="531.5" y="218" font-size="12" font-weight="normal" fill="#ededed" stroke="#ededed" stroke-width="0.15" textLength="28.0" lengthAdjust="spacingAndGlyphs" >$5,00</text><text x="531.5" y="242" font-size="12" font-weight="normal" fill="#ededed" stroke="#ededed" stroke-width="0.15" textLength="28.0" lengthAdjust="spacingAndGlyphs" >$0,00</text><text x="531.5" y="266" font-size="12" font-weight="normal" fill="#ededed" stroke="#ededed" stroke-width="0.15" textLength="32.5" lengthAdjust="spacingAndGlyphs" >-$5,00</text><text x="531.5" y="291" font-size="12" font-weight="normal" fill="#ededed" stroke="#ededed" stroke-width="0.15" textLength="39.0" lengthAdjust="spacingAndGlyphs" >-$10,00</text><rect x="135" y="383" width="6" height="6" fill="#30f030"/><rect x="201.5" y="383" width="6" height="6" fill="#f04a4a"/><rect x="304.5" y="383" width="6" height="6" fill="#38a6ea"/><rect x="381.7" y="383" width="6" height="6" fill="#f5952a"/><text x="146.3" y="391" font-size="12" font-weight="normal" fill="#d4d4d4" stroke="#d4d4d4" stroke-width="0.15" textLength="46.4" lengthAdjust="spacingAndGlyphs" >Net Won</text><text x="212.6" y="391" font-size="12" font-weight="normal" fill="#d4d4d4" stroke="#d4d4d4" stroke-width="0.15" textLength="83.2" lengthAdjust="spacingAndGlyphs" >Non Showdown</text><text x="315.6" y="391" font-size="12" font-weight="normal" fill="#d4d4d4" stroke="#d4d4d4" stroke-width="0.15" textLength="58.2" lengthAdjust="spacingAndGlyphs" >Showdown</text><text x="392.8" y="391" font-size="12" font-weight="normal" fill="#d4d4d4" stroke="#d4d4d4" stroke-width="0.15" textLength="44.7" lengthAdjust="spacingAndGlyphs" >All-In EV</text><text x="521.6" y="378" font-size="8.5" font-weight="normal" fill="#9a9a9a" stroke="#9a9a9a" stroke-width="0.15" textLength="47.9" lengthAdjust="spacingAndGlyphs" style="stroke-width:0">Powered by</text><text x="474.6" y="390.5" font-size="12" font-weight="normal" fill="#c8c8c8" stroke="#c8c8c8" stroke-width="0.15" textLength="94.6" lengthAdjust="spacingAndGlyphs" >Hold'em Manager</text><rect x="2" y="377" width="66" height="23" fill="#4b4b4b"/><text x="26.2" y="393" font-size="12" font-weight="normal" fill="#ededed" stroke="#ededed" stroke-width="0.15" textLength="37.9" lengthAdjust="spacingAndGlyphs" >Options</text><polyline points="10,390 12.5,387 15,390" fill="none" stroke="#d0d0d0" stroke-width="1.5"/>
<polygon points="18.0,9.0 24.2,12.5 24.2,19.5 18.0,23.0 11.8,19.5 11.8,12.5" fill="#d9411e"/>
<text x="17.8" y="19.1" font-size="8.6" font-weight="bold" fill="#fff" stroke="#fff" stroke-width="0.6" text-anchor="middle">2</text>
<polygon points="585.0,371.3 596.0,377.6 596.0,390.1 585.0,396.3 574.0,390.1 574.0,377.6" fill="#c8602c"/>
<text x="585" y="389.3" font-size="15.5" font-weight="bold" fill="#e2e2e2" stroke="#e2e2e2" stroke-width="0.8" text-anchor="middle">2</text>
<defs><radialGradient id="hg" cx="0.5" cy="0.35" r="0.6"><stop offset="0" stop-color="#3d84d0"/><stop offset="0.7" stop-color="#2363b4"/><stop offset="1" stop-color="#1a4e92"/></radialGradient></defs>
<circle cx="600.8" cy="40.7" r="6.8" fill="url(#hg)"/>
<text x="598.6" y="44.2" font-size="9" font-weight="bold" fill="#fff" stroke="#fff" stroke-width="0.35" textLength="4.6" lengthAdjust="spacingAndGlyphs">?</text>
<rect x="491" y="16" width="10" height="1" fill="#000"/>
<rect x="536.5" y="11.5" width="9" height="9" fill="none" stroke="#000" stroke-width="1"/>
<path d="M582,11 L592,21 M592,11 L582,21" stroke="#000" stroke-width="1"/>
</svg>
</body></html>
